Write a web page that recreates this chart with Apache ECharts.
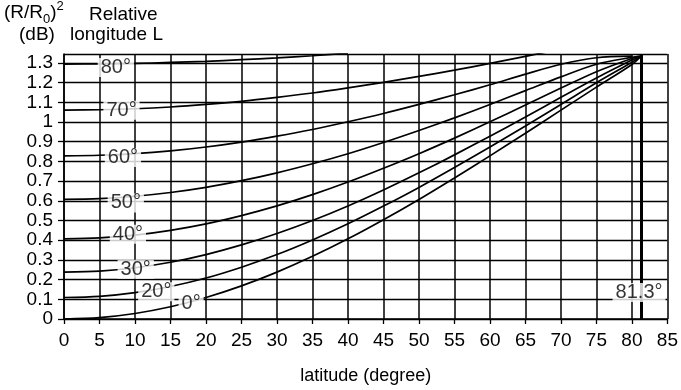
<!DOCTYPE html>
<html>
<head>
<meta charset="utf-8">
<script src="https://cdn.jsdelivr.net/npm/echarts@6/dist/echarts.min.js"></script>
<style>
html,body{margin:0;padding:0;background:#fff;}
#chart{width:681px;height:390px;}
</style>
</head>
<body>
<div id="chart"></div>
<script>
// Latitude sample points (degree)
var latitudes = [0, 5, 10, 15, 20, 25, 30, 35, 40, 45, 50, 55, 60, 65, 70, 75, 80, 81.3];

// (R/R0)^2 in dB for each relative longitude L
var curveL0  = [0, 0.007, 0.028, 0.062, 0.109, 0.168, 0.238, 0.318, 0.407, 0.504, 0.607, 0.716, 0.828, 0.943, 1.060, 1.177, 1.292, 1.334];
var curveL20 = [0.109, 0.115, 0.134, 0.165, 0.208, 0.263, 0.327, 0.401, 0.483, 0.573, 0.668, 0.769, 0.873, 0.980, 1.089, 1.199, 1.303, 1.334];
var curveL30 = [0.238, 0.243, 0.260, 0.288, 0.327, 0.376, 0.434, 0.500, 0.574, 0.655, 0.742, 0.833, 0.928, 1.025, 1.125, 1.223, 1.314, 1.334];
var curveL40 = [0.407, 0.412, 0.426, 0.450, 0.483, 0.525, 0.574, 0.631, 0.695, 0.765, 0.839, 0.918, 1.001, 1.086, 1.172, 1.255, 1.322, 1.334];
var curveL50 = [0.607, 0.611, 0.623, 0.642, 0.668, 0.702, 0.742, 0.788, 0.839, 0.896, 0.957, 1.021, 1.089, 1.159, 1.229, 1.293, 1.328, 1.334];
var curveL60 = [0.828, 0.831, 0.839, 0.853, 0.873, 0.898, 0.928, 0.962, 1.001, 1.043, 1.089, 1.138, 1.189, 1.243, 1.293, 1.326, 1.334];
var curveL70 = [1.060, 1.062, 1.067, 1.076, 1.089, 1.105, 1.125, 1.147, 1.173, 1.201, 1.231, 1.263, 1.297, 1.333, 1.370];
var curveL80 = [1.294, 1.295, 1.297, 1.302, 1.308, 1.316, 1.325, 1.336, 1.349];

var curveNames = ['0°', '20°', '30°', '40°', '50°', '60°', '70°', '80°'];
var curves = [curveL0, curveL20, curveL30, curveL40, curveL50, curveL60, curveL70, curveL80];

// Curve label anchors [latitude, dB]
var labelTexts = ['80°', '70°', '60°', '50°', '40°', '30°', '20°', '0°'];
var labelPos = [[7.3, 1.277], [8.1, 1.06], [8.3, 0.82], [8.7, 0.589], [9.0, 0.43], [10.1, 0.252], [13.0, 0.138], [17.9, 0.08]];

// Visibility limit
var limitLat = 81.3;
var limitLabel = '81.3°';
var limitLabelPos = [81.0, 0.134];

var xTicks = {min: 0, max: 85, interval: 5};
var yTicks = {min: 0, max: 1.345, interval: 0.1};

var FONT = '"Liberation Sans", Arial, Helvetica, sans-serif';

var chart = echarts.init(document.getElementById('chart'), null, {renderer: 'canvas'});

var series = curves.map(function (vals, i) {
  return {
    type: 'line',
    name: curveNames[i],
    data: vals.map(function (v, k) { return [latitudes[k], v]; }),
    showSymbol: false,
    symbol: 'none',
    smooth: 0.3,
    clip: true,
    lineStyle: {color: '#000', width: 1.7},
    z: 3,
    silent: true
  };
});

series.push({
  type: 'line',
  data: [],
  z: 4,
  silent: true,
  markLine: {
    silent: true,
    symbol: ['none', 'none'],
    label: {show: false},
    lineStyle: {color: '#000', width: 3, type: 'solid'},
    data: [{xAxis: limitLat}]
  }
});

var labelData = labelTexts.map(function (t, i) {
  return {value: labelPos[i], name: t};
});
labelData.push({value: limitLabelPos, name: limitLabel});

series.push({
  type: 'scatter',
  data: labelData,
  symbolSize: 1,
  itemStyle: {color: 'rgba(0,0,0,0)'},
  z: 10,
  silent: true,
  label: {
    show: true,
    position: 'inside',
    formatter: function (p) { return p.name; },
    color: '#000',
    fontFamily: FONT,
    fontSize: 20,
    lineHeight: 18,
    backgroundColor: '#fff',
    padding: [1, 3, 0, 3]
  }
});

var option = {
  backgroundColor: '#fff',
  animation: false,
  grid: {left: 64, right: 11, top: 54, bottom: 64, containLabel: false},
  xAxis: {
    type: 'value',
    min: xTicks.min, max: xTicks.max, interval: xTicks.interval,
    name: 'latitude (degree)',
    nameLocation: 'middle',
    nameGap: 48,
    nameTextStyle: {color: '#000', fontFamily: FONT, fontSize: 18},
    axisLine: {show: true, lineStyle: {color: '#000', width: 1.5}},
    axisTick: {show: true, length: 5, lineStyle: {color: '#000', width: 1.3}},
    axisLabel: {color: '#000', fontFamily: FONT, fontSize: 19, margin: 12},
    splitLine: {show: true, lineStyle: {color: '#000', width: 1.5}}
  },
  yAxis: {
    type: 'value',
    min: yTicks.min, max: yTicks.max, interval: yTicks.interval,
    axisLine: {show: true, lineStyle: {color: '#000', width: 1.5}},
    axisTick: {show: true, length: 6, lineStyle: {color: '#000', width: 1.3}},
    axisLabel: {color: '#000', fontFamily: FONT, fontSize: 19, margin: 11, showMaxLabel: false,
      formatter: function (v) { return Math.abs(v - yTicks.max) < 1e-6 ? '' : String(Math.round(v * 10) / 10); }},
    splitLine: {show: true, lineStyle: {color: '#000', width: 1.3}}
  },
  graphic: [
    {
      type: 'text', left: 4, top: 0, silent: true,
      style: {
        text: '{a|(R/R}{s|0}{a|)}{p|2}',
        rich: {
          a: {fontFamily: FONT, fontSize: 19, lineHeight: 26, fill: '#000'},
          s: {fontFamily: FONT, fontSize: 13, lineHeight: 13, verticalAlign: 'bottom', fill: '#000'},
          p: {fontFamily: FONT, fontSize: 13, lineHeight: 13, verticalAlign: 'top', fill: '#000'}
        }
      }
    },
    {type: 'text', left: 89, top: 5, silent: true, style: {text: 'Relative', font: '19px ' + FONT, fill: '#000'}},
    {type: 'text', left: 19, top: 25, silent: true, style: {text: '(dB)', font: '19px ' + FONT, fill: '#000'}},
    {type: 'text', left: 70, top: 25, silent: true, style: {text: 'longitude L', font: '19px ' + FONT, fill: '#000'}}
  ],
  series: series
};

chart.setOption(option);
</script>
</body>
</html>
